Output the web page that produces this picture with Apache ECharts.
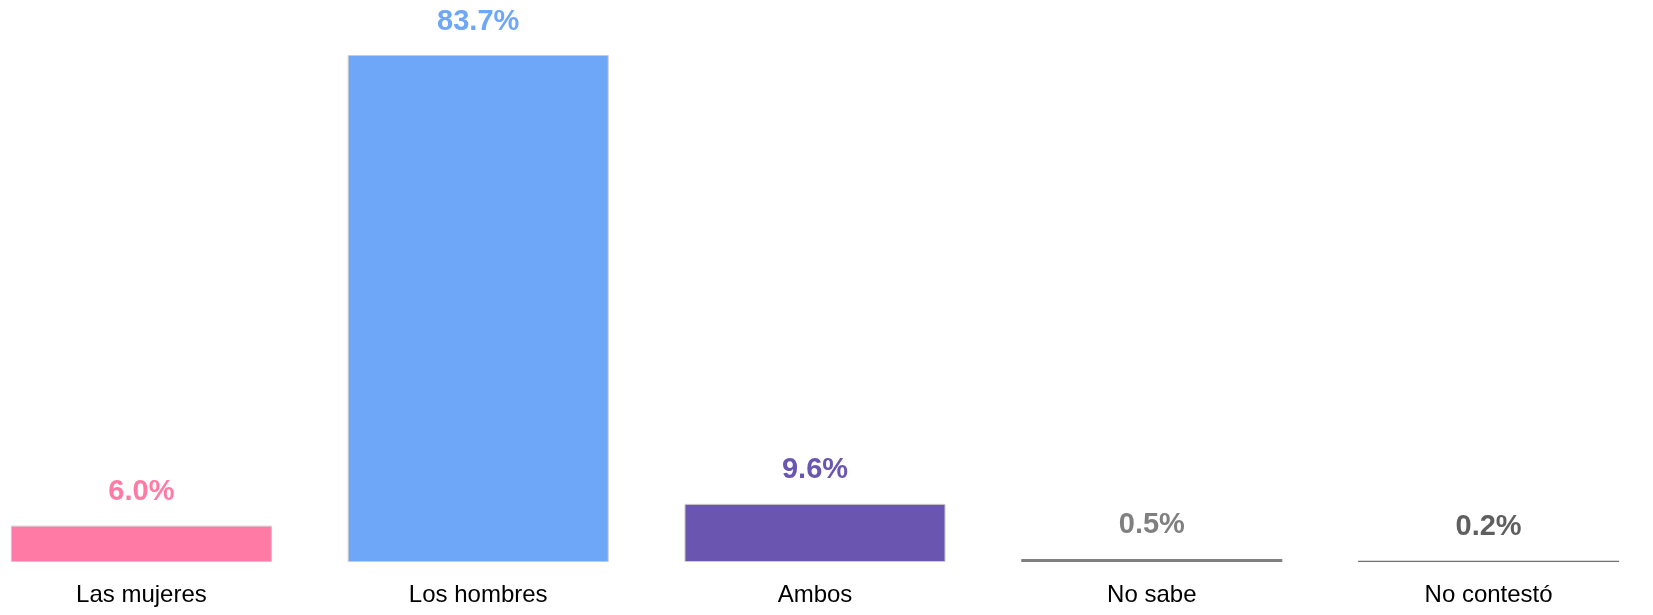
<!DOCTYPE html>
<html>
<head>
<meta charset="utf-8">
<script src="https://cdn.jsdelivr.net/npm/echarts@6/dist/echarts.min.js"></script>
<style>
html,body{margin:0;padding:0;background:#fff;overflow:hidden;}
#chart{width:1684px;height:615px;margin-left:-27px;}
</style>
</head>
<body>
<div id="chart"></div>
<script>
const categories = ['Las mujeres', 'Los hombres', 'Ambos', 'No sabe', 'No contestó'];
const values = [6.0, 83.7, 9.6, 0.5, 0.2];
const barColors = ['#ff7ba5', '#6fa7f8', '#6a55b0', '#808080', '#707070'];
const labelColors = ['#ff7ba5', '#6fa7f8', '#6a55b0', '#808080', '#5f5f5f'];

const chart = echarts.init(document.getElementById('chart'));
chart.setOption({
  animation: false,
  grid: { left: 0, right: 0, top: 55, bottom: 53 },
  xAxis: {
    type: 'category',
    data: categories,
    axisLine: { show: false },
    axisTick: { show: false },
    axisLabel: {
      color: '#000',
      fontSize: 24,
      fontFamily: 'Liberation Sans, Arial, sans-serif',
      margin: 21
    }
  },
  yAxis: {
    type: 'value',
    min: 0,
    max: Math.max(...values),
    show: false,
    splitLine: { show: false }
  },
  series: [{
    type: 'bar',
    barWidth: '77.5%',
    data: values.map((v, i) => ({
      value: v,
      itemStyle: {
        color: barColors[i],
        borderColor: i < 3 ? '#cccccc' : barColors[i],
        borderWidth: i < 3 ? 1 : 0
      },
      label: { color: labelColors[i] }
    })),
    label: {
      show: true,
      position: 'top',
      distance: 19,
      fontSize: 29,
      fontWeight: 'bold',
      fontFamily: 'Liberation Sans, Arial, sans-serif',
      formatter: p => p.value.toFixed(1) + '%'
    }
  }]
});
</script>
</body>
</html>
